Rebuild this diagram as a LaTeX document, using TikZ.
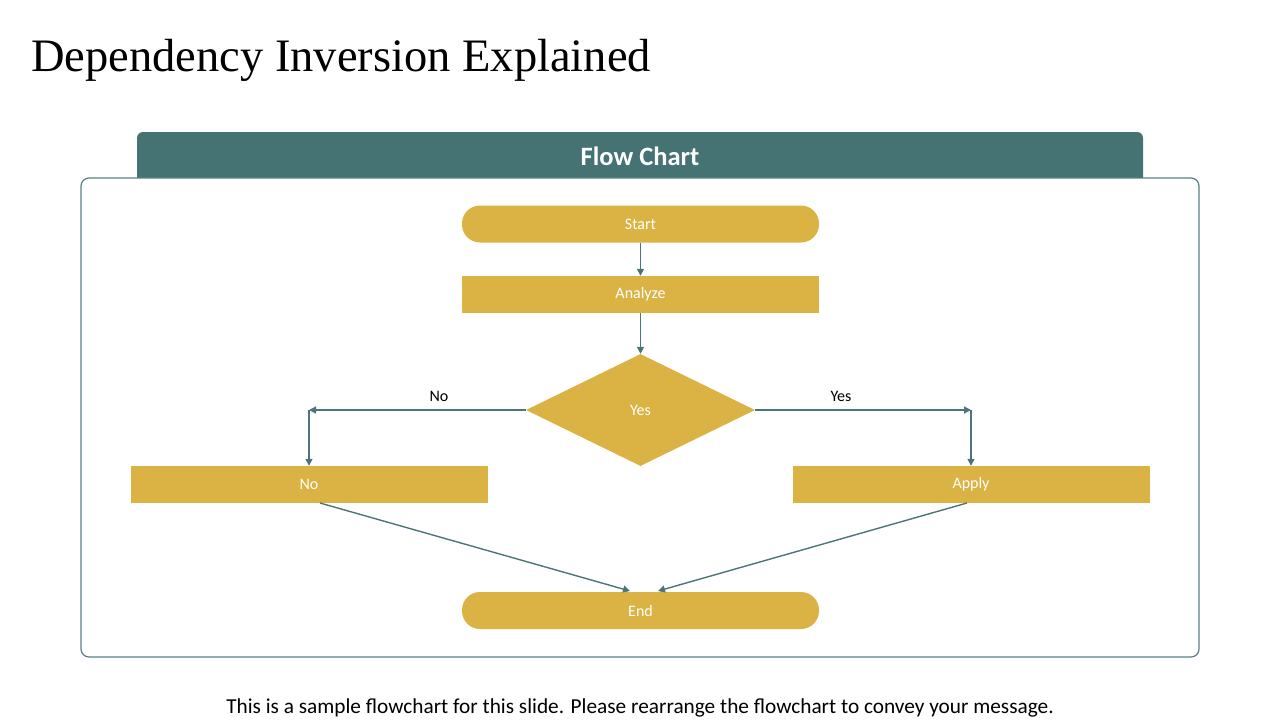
\documentclass[tikz,border=0pt]{standalone}
\usepackage{fontspec}
\setmainfont{Carlito}
\newfontfamily\titlefont{Liberation Serif}
\usetikzlibrary{shapes.geometric,arrows.meta}
\definecolor{tealhead}{HTML}{457272}
\definecolor{gold}{HTML}{DBB344}
\definecolor{conn}{HTML}{4D7479}
\definecolor{frameline}{HTML}{5A8086}
\tikzset{
  box/.style={fill=gold,minimum width=357pt,minimum height=37pt,inner sep=0pt,text=white,font=\fontsize{16}{18}\selectfont},
  term/.style={box,rounded corners=18pt},
  dec/.style={diamond,fill=gold,minimum width=229pt,minimum height=112pt,aspect=2.04,inner sep=0pt,text=white,font=\fontsize{16}{18}\selectfont},
  arr/.style={draw=conn,line width=1.4pt,-{Triangle[length=7pt,width=7pt]}},
  lbl/.style={font=\fontsize{16}{18}\selectfont,text=black}
}
\begin{document}
\begin{tikzpicture}[x=1pt,y=-1pt]
\useasboundingbox (0,0) rectangle (1280,720);
% title
\node[anchor=base west,inner sep=0pt,font=\titlefont\fontsize{46.5}{52}\selectfont] (title) at (31,71) {Dependency Inversion Explained};
% header tab
\fill[tealhead] (137,178) [rounded corners=6pt] -- (137,132) -- (1143,132) [sharp corners] -- (1143,178) -- cycle;
\node[text=white,font=\bfseries\fontsize{26.5}{30}\selectfont] (header) at (640,156) {Flow Chart};
% frame
\draw[frameline,line width=1.2pt,rounded corners=8pt,fill=white] (81,178) rectangle (1199,657);
% nodes
\node[term] (start) at (640.5,224) {Start};
\node[box] (analyze) at (640.5,294.5) {Analyze};
\node[dec] (dec) at (640.5,410) {Yes};
\node[box] (no) at (309,484.5) {No};
\node[box] (apply) at (971,484.5) {Apply};
\node[term] (end) at (640.5,610.5) {End};
\coordinate (cl) at (309,410);
\coordinate (cr) at (971,410);
\coordinate (noout) at (320,503);
\coordinate (endl) at (630,591);
\coordinate (applyout) at (967,503);
\coordinate (endr) at (658,591);
% connectors
\draw[arr] (start.south) -- (analyze.north);
\draw[arr] (analyze.south) -- (dec.north);
\draw[arr] (dec.west) -- (cl);
\draw[arr] (cl) -- (cl |- no.north);
\draw[arr] (dec.east) -- (cr);
\draw[arr] (cr) -- (cr |- apply.north);
\draw[arr] (noout) -- (endl);
\draw[arr] (applyout) -- (endr);
\node[lbl] (lno) at (439,396) {No};
\node[lbl] (lyes) at (841,396) {Yes};
% footer
\node[font=\fontsize{21.3}{25}\selectfont] (footer) at (640,708) {This is a sample flowchart for this slide. Please rearrange the flowchart to convey your message.};
\end{tikzpicture}
\end{document}
